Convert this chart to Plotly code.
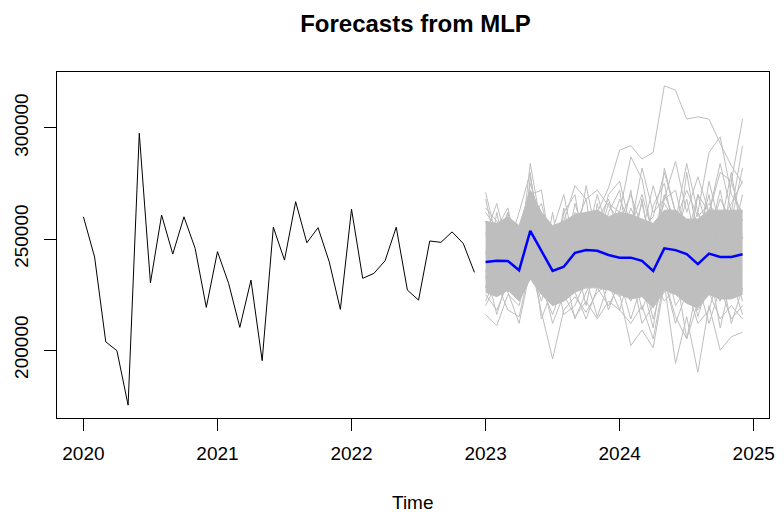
import plotly.graph_objects as go

# ---------------- data (values in units) ----------------
hist_start = 2020
history = [260000, 241900, 203700, 199700, 175200, 297600, 230300, 260800, 243200, 260000, 245800, 219200,
           244300, 230000, 210200, 231500, 195200, 255300, 240500, 266800, 248300, 255100, 239800, 218300,
           263400, 232300, 234500, 240200, 255300, 227000, 222500, 249100, 248500, 253200, 248000, 235000]

fc_start = 2023
mean_fc = [239600, 240200, 240100, 235900, 253700, 244600, 235600, 237500, 243800, 245000, 244700, 242800,
           241600, 241600, 240200, 235600, 245800, 245000, 243200, 238700, 243400, 241900, 241900, 243100]

# dense core of the simulated paths (upper / lower edges, thousands)
core_upper = [258, 257, 260, 256, 272, 262, 256, 258, 261, 262, 263, 260,
              262, 261, 259, 257, 263, 263, 259, 259, 263, 263, 263, 263]
core_lower = [226, 224, 227, 222, 232, 225, 220, 222, 226, 228, 228, 227,
              225, 223, 224, 219, 227, 225, 221, 219, 225, 223, 223, 225]

# individual simulated sample paths visible around the core (thousands)
paths = [
    [245, 238, 250, 232, 262, 248, 238, 244, 250, 255, 262, 273, 290, 292, 286, 289, 319, 317, 304, 305, 304, 293, 283, 275],
    [271, 250, 262, 240, 284, 255, 230, 250, 262, 258, 254, 248, 262, 287, 277, 250, 270, 258, 284, 262, 289, 296, 270, 262],
    [262, 255, 264, 238, 270, 272, 240, 258, 274, 268, 272, 265, 258, 270, 255, 260, 280, 262, 250, 270, 262, 280, 276, 304],
    [216, 211, 225, 220, 240, 217, 196, 218, 224, 217, 226, 230, 225, 202, 209, 201, 230, 194, 215, 190, 220, 200, 206, 208],
    [225, 218, 230, 226, 246, 232, 212, 225, 215, 222, 214, 222, 218, 212, 220, 205, 232, 215, 205, 230, 212, 228, 214, 220],
    [268, 245, 255, 230, 278, 250, 226, 262, 270, 240, 258, 268, 250, 272, 240, 265, 275, 250, 268, 245, 276, 255, 280, 250],
    [232, 262, 238, 250, 266, 235, 262, 232, 256, 268, 236, 262, 272, 240, 268, 238, 282, 262, 240, 270, 252, 268, 258, 282],
    [220, 230, 218, 215, 238, 222, 240, 216, 220, 232, 215, 230, 218, 236, 212, 220, 226, 236, 205, 222, 238, 210, 232, 216],
    [236, 216, 233, 228, 250, 214, 228, 236, 214, 226, 238, 218, 232, 214, 230, 210, 242, 220, 228, 212, 218, 236, 212, 228],
    [252, 266, 246, 262, 280, 240, 254, 270, 245, 274, 250, 270, 276, 255, 282, 262, 268, 285, 262, 278, 262, 284, 262, 292],
    [244, 228, 248, 240, 258, 266, 246, 226, 248, 236, 266, 240, 248, 264, 252, 274, 256, 240, 280, 250, 270, 240, 276, 258],
    [258, 240, 262, 246, 275, 258, 235, 264, 240, 262, 248, 266, 262, 250, 266, 245, 268, 272, 250, 262, 250, 272, 248, 270],
    [228, 252, 226, 236, 244, 226, 250, 228, 240, 220, 245, 228, 224, 240, 218, 232, 222, 228, 238, 215, 232, 222, 240, 222],
    [264, 258, 244, 252, 270, 262, 248, 240, 266, 250, 270, 252, 268, 256, 270, 252, 266, 258, 272, 260, 266, 258, 266, 276],
    [222, 234, 226, 212, 236, 228, 216, 230, 226, 214, 228, 220, 230, 222, 234, 214, 232, 212, 226, 218, 226, 214, 220, 214],
]

x_ticks = [2020, 2021, 2022, 2023, 2024, 2025]
y_ticks = [200000, 250000, 300000]

# ---------------- build ----------------
x_hist = [hist_start + i / 12 for i in range(len(history))]
x_fc = [fc_start + i / 12 for i in range(len(mean_fc))]

GREY = "#BEBEBE"
fig = go.Figure()

fig.add_trace(go.Scatter(x=x_fc, y=[v * 1000 for v in core_upper], mode="lines",
                         line=dict(color=GREY, width=1), hoverinfo="skip", showlegend=False))
fig.add_trace(go.Scatter(x=x_fc, y=[v * 1000 for v in core_lower], mode="lines",
                         line=dict(color=GREY, width=1), fill="tonexty", fillcolor=GREY,
                         hoverinfo="skip", showlegend=False))
for p in paths:
    fig.add_trace(go.Scatter(x=x_fc, y=[v * 1000 for v in p], mode="lines",
                             line=dict(color=GREY, width=1), hoverinfo="skip", showlegend=False))

fig.add_trace(go.Scatter(x=x_hist, y=history, mode="lines",
                         line=dict(color="black", width=1), showlegend=False))
fig.add_trace(go.Scatter(x=x_fc, y=mean_fc, mode="lines",
                         line=dict(color="#0000FF", width=2.5), showlegend=False))

FONT = "Liberation Sans, Arial, sans-serif"
fig.update_layout(
    width=784, height=512,
    margin=dict(l=57, r=9, t=72, b=94),
    paper_bgcolor="white", plot_bgcolor="white",
    font=dict(family=FONT, size=19, color="black"),
    title=dict(text="<b>Forecasts from MLP</b>", x=0.53, xanchor="center",
               y=1 - 24 / 512, yref="container", yanchor="middle",
               font=dict(family=FONT, size=24, color="black")),
    annotations=[dict(text="Time", x=0.5, xref="paper", y=(418 - 503) / 346, yref="paper",
                      showarrow=False, xanchor="center", yanchor="middle",
                      font=dict(family=FONT, size=19, color="black"))],
)
fig.update_xaxes(range=[2019.803, 2025.114], tickvals=x_ticks, ticktext=[str(t) for t in x_ticks],
                 ticks="outside", ticklen=12, tickcolor="black", tickwidth=1,
                 showline=True, linecolor="black", linewidth=1, mirror=True,
                 showgrid=False, zeroline=False, ticklabelstandoff=6)
fig.update_yaxes(range=[169400, 325200], tickvals=y_ticks, ticktext=[str(t) for t in y_ticks],
                 tickangle=-90, ticks="outside", ticklen=12, tickcolor="black", tickwidth=1,
                 showline=True, linecolor="black", linewidth=1, mirror=True,
                 showgrid=False, zeroline=False, ticklabelstandoff=8)

fig.write_html("out.html", config={"displayModeBar": False},
               post_script="document.body.style.margin='0';document.body.style.padding='0';")
